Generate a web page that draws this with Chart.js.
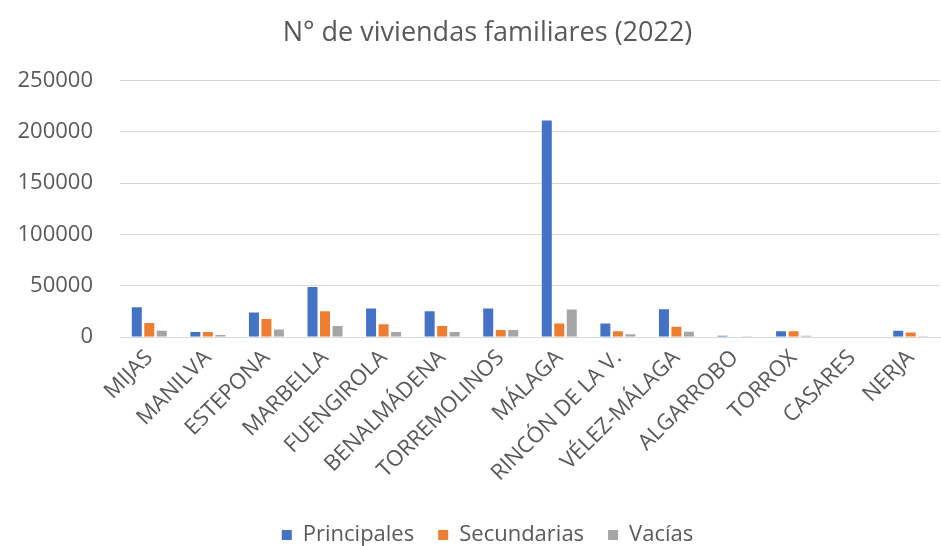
<!DOCTYPE html>
<html>
<head>
<meta charset="utf-8">
<script src="https://cdn.jsdelivr.net/npm/chart.js@4"></script>
<style>
  html, body { margin: 0; padding: 0; background: #fff; }
  #wrap { width: 941px; height: 546px; }
</style>
</head>
<body>
<div id="wrap"><canvas id="chart" width="941" height="546"></canvas></div>
<script>
const municipios = ['MIJAS', 'MANILVA', 'ESTEPONA', 'MARBELLA', 'FUENGIROLA', 'BENALMÁDENA', 'TORREMOLINOS',
  'MÁLAGA', 'RINCÓN DE LA V.', 'VÉLEZ-MÁLAGA', 'ALGARROBO', 'TORROX', 'CASARES', 'NERJA'];
const principales = [29000, 4900, 23900, 48700, 27800, 25200, 27800, 211000, 13100, 27100, 1200, 5600, 0, 6200];
const secundarias = [13700, 4900, 17600, 25200, 12400, 10800, 6900, 13100, 5600, 10100, 600, 5600, 0, 4300];
const vacias = [6200, 2000, 7200, 10800, 4900, 4900, 6900, 26800, 2600, 5200, 300, 1300, 0, 300];
const yTicks = [0, 50000, 100000, 150000, 200000, 250000];

const textColor = '#595959';
const fontFamily = '"Open Sans", "Noto Sans", sans-serif';

new Chart(document.querySelector('#chart'), {
  type: 'bar',
  data: {
    labels: municipios,
    datasets: [
      { label: 'Principales', data: principales, backgroundColor: '#4472C4' },
      { label: 'Secundarias', data: secundarias, backgroundColor: '#ED7D31' },
      { label: 'Vacías', data: vacias, backgroundColor: '#A5A5A5' },
    ],
  },
  options: {
    responsive: false,
    animation: false,
    // negative right padding shifts title/legend centre right, the empty right axis takes it back
    layout: { padding: { left: 0, right: -34, top: 0, bottom: -10 } },
    datasets: { bar: { categoryPercentage: 0.64, barPercentage: 0.8 } },
    plugins: {
      title: {
        display: true,
        text: 'N° de viviendas familiares (2022)',
        color: textColor,
        font: { family: fontFamily, size: 27, weight: 'normal' },
        padding: { top: 17, bottom: 31 },
      },
      legend: {
        position: 'bottom',
        labels: {
          color: textColor,
          font: { family: fontFamily, size: 22 },
          boxWidth: 10,
          boxHeight: 10,
          padding: 24,
        },
      },
      tooltip: { enabled: false },
    },
    scales: {
      y: {
        min: 0,
        max: 250000,
        afterBuildTicks: (axis) => { axis.ticks = yTicks.map((v) => ({ value: v })); },
        afterFit: (scale) => { scale.width = 120; },
        ticks: {
          color: textColor,
          font: { family: fontFamily, size: 22 },
          padding: 27,
          callback: (v) => String(v),
        },
        grid: { color: '#d9d9d9', lineWidth: 1, drawTicks: false },
        border: { display: false },
      },
      spacer: {
        type: 'linear',
        position: 'right',
        afterFit: (scale) => { scale.width = 35; },
        ticks: { display: false },
        grid: { display: false, drawTicks: false },
        border: { display: false },
      },
      x: {
        afterFit: (scale) => { scale.height = 163; },
        ticks: {
          color: textColor,
          font: { family: fontFamily, size: 22 },
          minRotation: 45,
          maxRotation: 45,
          padding: 0,
        },
        grid: { display: false },
        border: { color: '#d9d9d9' },
      },
    },
  },
});
</script>
</body>
</html>
